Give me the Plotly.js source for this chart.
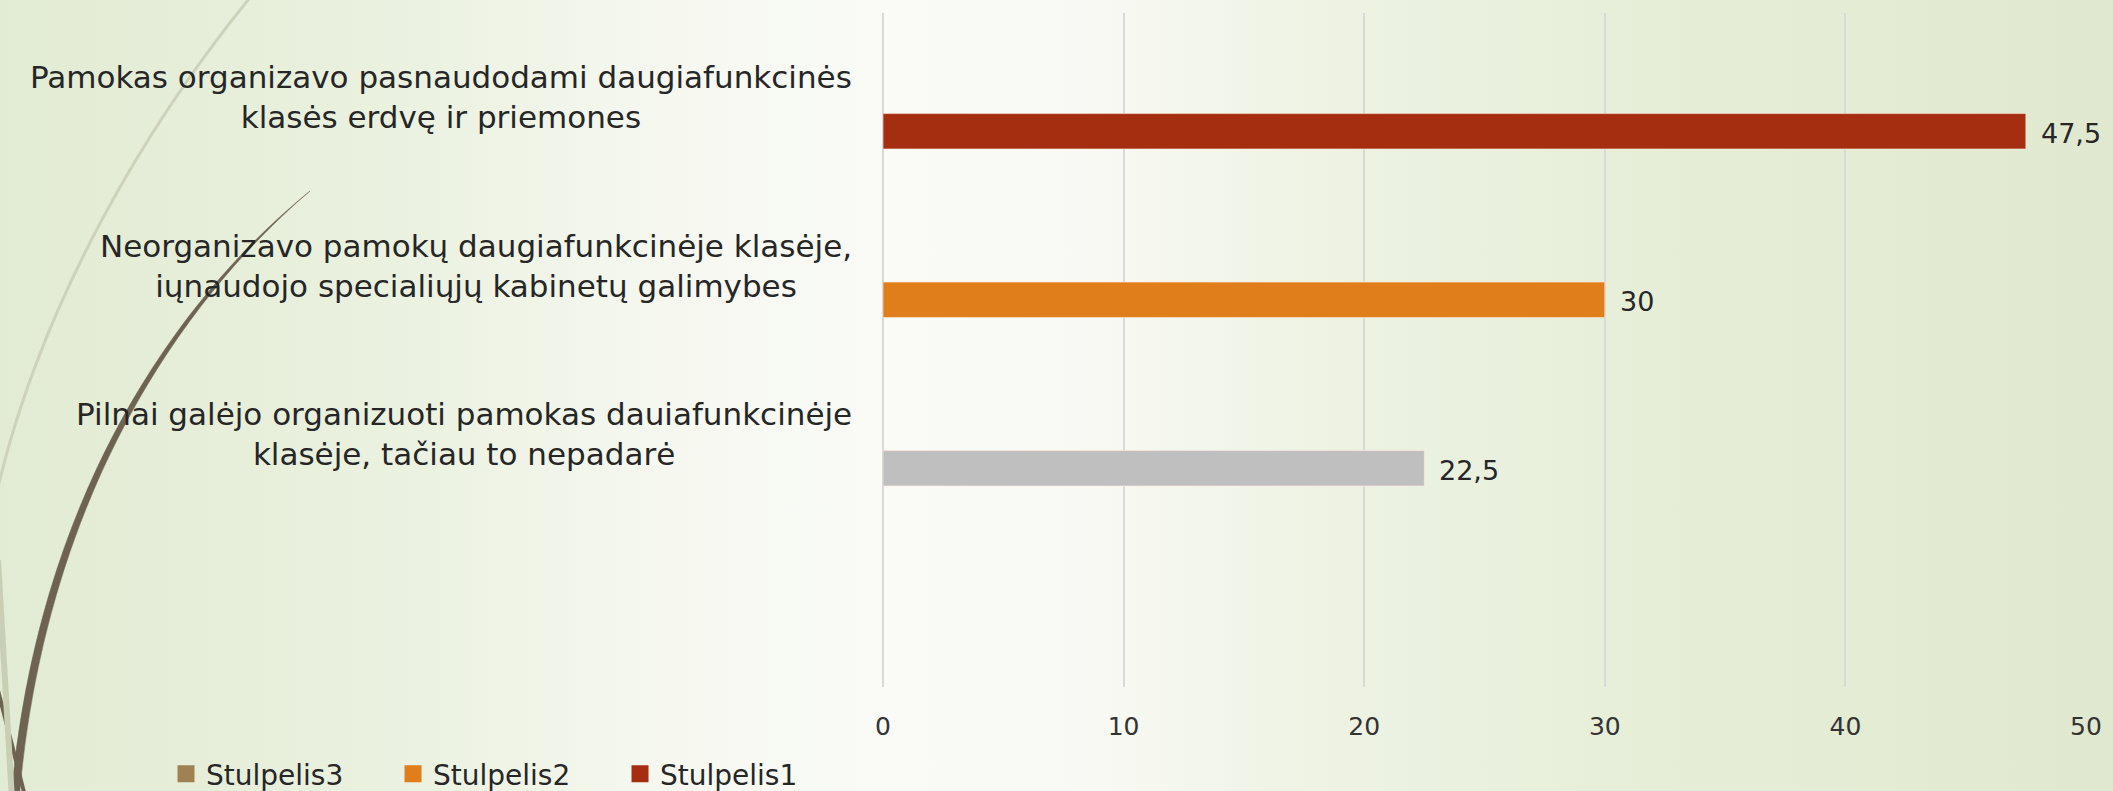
<!DOCTYPE html>
<html>
<head>
<meta charset="utf-8">
<script src="https://cdn.plot.ly/plotly-3.0.1.min.js"></script>
<style>
  html, body { margin: 0; padding: 0; }
  body {
    width: 2113px; height: 791px; overflow: hidden;
    background: linear-gradient(to right, #e2ebd3 0%, #eaf1df 18%, #f6f8f0 32%, #fafbf7 42%, #f8f9f3 52%, #eef3e4 62%, #e6eed8 78%, #e0e9cf 100%);
  }
  #chart { width: 2113px; height: 791px; }
</style>
</head>
<body>
<div id="chart"></div>
<script>
// ---- data ----
const categories = [
  "Pamokas organizavo pasnaudodami daugiafunkcinės<br>klasės erdvę ir priemones",
  "Neorganizavo pamokų daugiafunkcinėje klasėje,<br>iųnaudojo specialiųjų kabinetų galimybes",
  "Pilnai galėjo organizuoti pamokas dauiafunkcinėje<br>klasėje, tačiau to nepadarė"
];
const seriesNames = ["Stulpelis1", "Stulpelis2", "Stulpelis3"];
const seriesValues = [47.5, 30, 22.5];
const legendOrder = ["Stulpelis3", "Stulpelis2", "Stulpelis1"];

// ---- styles ----
const barColors = ["#a52e10", "#df7e1b", "#bfbfbf"];
const legendColors = { "Stulpelis1": "#a52e10", "Stulpelis2": "#df7e1b", "Stulpelis3": "#a08152" };
const FONT = "DejaVu Sans";
const TXT = "#262626";

// plot area in pixels (for decorative shapes)
const L = 883, R = 2086, T = 13, B = 687;
const px = x => ((x - L) / (R - L)).toFixed(4);
const py = y => ((B - y) / (B - T)).toFixed(4);
const P = (x, y) => px(x) + "," + py(y);

const traces = [];
seriesNames.forEach((name, i) => {
  traces.push({
    type: "bar", orientation: "h", name: name,
    y: [categories[i]], x: [seriesValues[i]],
    width: 0.21, offset: 0.097,
    marker: { color: barColors[i], line: { color: "rgba(255,235,220,0.6)", width: 1 } },
    showlegend: false, hoverinfo: "x+name"
  });
});
legendOrder.forEach(name => {
  traces.push({
    type: "bar", orientation: "h", name: name,
    y: [categories[0]], x: [null],
    marker: { color: legendColors[name], line: { color: legendColors[name], width: 5 } },
    showlegend: true, hoverinfo: "skip"
  });
});

const annotations = [];
categories.forEach((c, i) => {
  annotations.push({
    xref: "paper", yref: "y", x: px(854), y: c, xanchor: "right", yanchor: "middle",
    text: c, align: "center", showarrow: false,
    font: { family: FONT, size: 31, color: TXT }
  });
  annotations.push({
    xref: "x", yref: "y", x: seriesValues[i], y: c, xanchor: "left", yanchor: "middle",
    xshift: 13, yshift: -36,
    text: String(seriesValues[i]).replace(".", ","), showarrow: false,
    font: { family: FONT, size: 27, color: TXT }
  });
});

const shapes = [
  { type: "path", xref: "paper", yref: "paper", layer: "below",
    path: "M" + P(252, -5) + " C" + P(150, 120) + " " + P(40, 300) + " " + P(-5, 500),
    line: { color: "#cdd2ba", width: 3 } },
  { type: "path", xref: "paper", yref: "paper", layer: "below",
    path: "M" + P(310, 191) + " C" + P(175, 300) + " " + P(36, 500) + " " + P(11, 800) +
          " L" + P(19, 800) + " C" + P(44, 500) + " " + P(179, 303) + " " + P(310, 191) + " Z",
    fillcolor: "#6e6350", line: { color: "#6e6350", width: 0.5 } },
  { type: "path", xref: "paper", yref: "paper", layer: "below",
    path: "M" + P(-2, 690) + " L" + P(26, 800),
    line: { color: "#6e6350", width: 4 } },
  { type: "path", xref: "paper", yref: "paper", layer: "below",
    path: "M" + P(-2, 560) + " L" + P(12, 800),
    line: { color: "#c9cfb4", width: 6 } }
];

const layout = {
  width: 2113, height: 791,
  margin: { l: L, r: 2113 - R, t: T, b: 791 - B, pad: 0, autoexpand: false },
  paper_bgcolor: "rgba(0,0,0,0)", plot_bgcolor: "rgba(0,0,0,0)",
  barmode: "overlay",
  separators: ", ",
  font: { family: FONT, color: TXT },
  xaxis: {
    range: [0, 50], dtick: 10, tick0: 0, showgrid: true, gridcolor: "#d9d9d9", gridwidth: 2,
    zeroline: true, zerolinecolor: "#d9d9d9", zerolinewidth: 2,
    showline: false, ticks: "", ticklabelstandoff: 22,
    tickfont: { family: FONT, size: 25, color: "#333333" }, fixedrange: true
  },
  yaxis: {
    type: "category", categoryorder: "array", categoryarray: categories,
    range: [3.5, -0.5], showgrid: false, zeroline: false, showline: false,
    showticklabels: false, ticks: "", fixedrange: true
  },
  showlegend: true,
  legend: {
    orientation: "h", x: px(166), xanchor: "left", y: py(774), yanchor: "middle",
    bgcolor: "rgba(0,0,0,0)", font: { family: FONT, size: 28, color: TXT },
    traceorder: "normal", itemclick: false, itemdoubleclick: false,
    entrywidth: 182, entrywidthmode: "pixels"
  },
  annotations: annotations,
  shapes: shapes
};

Plotly.newPlot("chart", traces, layout, { displayModeBar: false, staticPlot: true });
</script>
</body>
</html>
